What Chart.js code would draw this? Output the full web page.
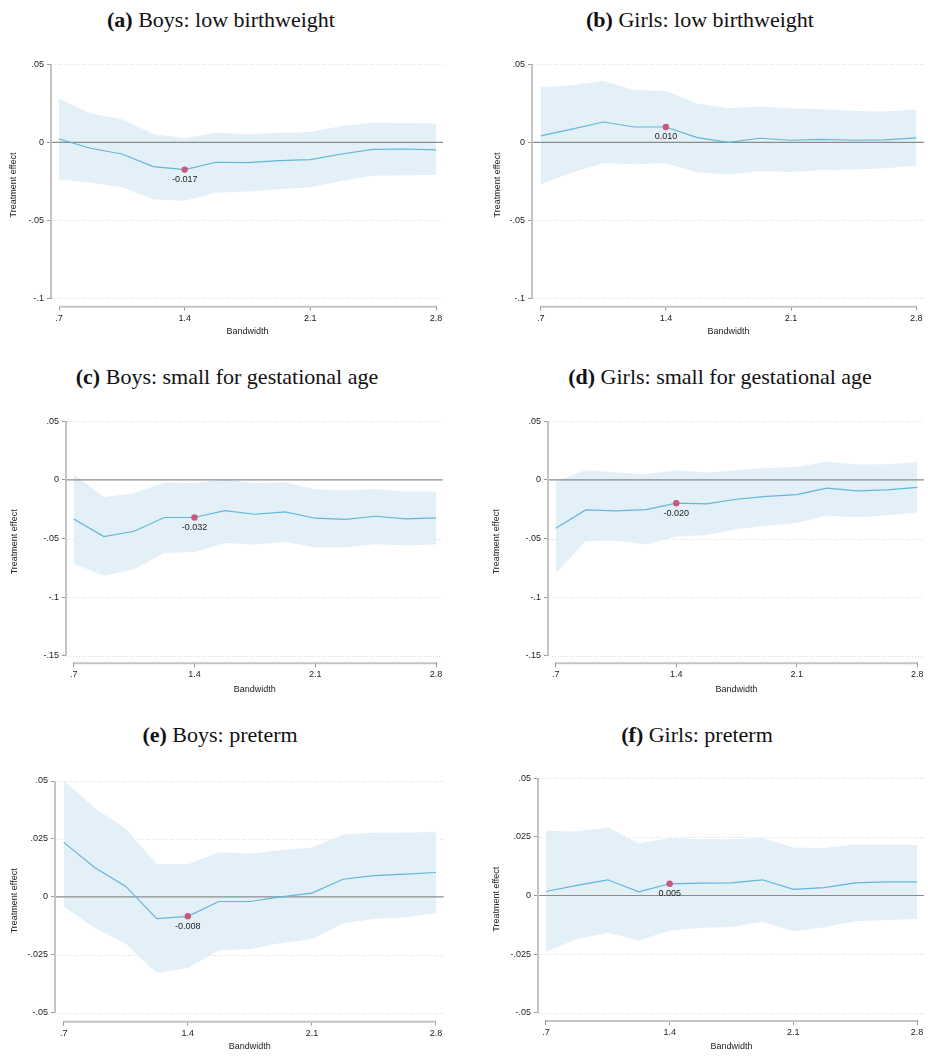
<!DOCTYPE html>
<html><head><meta charset="utf-8">
<script src="https://cdn.jsdelivr.net/npm/chart.js@4.4.1/dist/chart.umd.min.js"></script>
<style>
html,body{margin:0;padding:0;background:#fff;}
body{width:928px;height:1056px;position:relative;overflow:hidden;}
.ttl{position:absolute;width:440px;text-align:center;font-family:"Liberation Serif","DejaVu Serif",serif;font-size:22px;color:#111;white-space:nowrap;line-height:24px;}
canvas{position:absolute;}
</style></head><body>
<script>
// ---- data ----
const bandwidth = [0.7,0.875,1.05,1.225,1.4,1.575,1.75,1.925,2.1,2.275,2.45,2.625,2.8];
const xTickValues = [0.7,1.4,2.1,2.8];
const xTickLabels = ['.7','1.4','2.1','2.8'];
const yTicksLbw = [-0.1,-0.05,0,0.05];
const yLabelsLbw = ['-.1','-.05','0','.05'];
const yTicksSga = [-0.15,-0.1,-0.05,0,0.05];
const yLabelsSga = ['-.15','-.1','-.05','0','.05'];
const yTicksPre = [-0.05,-0.025,0,0.025,0.05];
const yLabelsPre = ['-.05','-.025','0','.025','.05'];

const boysLbwEst = [0.0021,-0.0038,-0.0075,-0.0156,-0.0175,-0.0128,-0.0130,-0.0118,-0.0111,-0.0075,-0.0045,-0.0043,-0.0049];
const boysLbwHi  = [0.0280,0.0186,0.0147,0.0053,0.0028,0.0062,0.0053,0.0060,0.0066,0.0105,0.0126,0.0124,0.0120];
const boysLbwLo  = [-0.0237,-0.0260,-0.0288,-0.0365,-0.0374,-0.0323,-0.0316,-0.0301,-0.0288,-0.0246,-0.0214,-0.0212,-0.0209];

const girlsLbwEst = [0.0041,0.0085,0.0130,0.0098,0.0098,0.0030,0.0000,0.0026,0.0013,0.0019,0.0013,0.0015,0.0028];
const girlsLbwHi  = [0.0353,0.0365,0.0393,0.0335,0.0329,0.0248,0.0218,0.0229,0.0216,0.0212,0.0201,0.0197,0.0209];
const girlsLbwLo  = [-0.0269,-0.0194,-0.0135,-0.0141,-0.0135,-0.0192,-0.0207,-0.0184,-0.0190,-0.0177,-0.0175,-0.0167,-0.0150];

const boysSgaEst = [-0.0333,-0.0484,-0.0438,-0.0321,-0.0321,-0.0262,-0.0293,-0.0273,-0.0327,-0.0336,-0.0310,-0.0333,-0.0324];
const boysSgaHi  = [0.0048,-0.0148,-0.0114,-0.0023,-0.0026,0.0003,-0.0026,-0.0020,-0.0080,-0.0091,-0.0077,-0.0102,-0.0100];
const boysSgaLo  = [-0.0714,-0.0817,-0.0762,-0.0623,-0.0615,-0.0538,-0.0552,-0.0529,-0.0575,-0.0575,-0.0549,-0.0560,-0.0552];

const girlsSgaEst = [-0.0413,-0.0256,-0.0265,-0.0253,-0.0199,-0.0205,-0.0165,-0.0140,-0.0125,-0.0071,-0.0094,-0.0085,-0.0063];
const girlsSgaHi  = [-0.0014,0.0085,0.0063,0.0051,0.0083,0.0063,0.0083,0.0102,0.0111,0.0154,0.0131,0.0134,0.0151];
const girlsSgaLo  = [-0.0797,-0.0523,-0.0518,-0.0552,-0.0484,-0.0470,-0.0421,-0.0390,-0.0367,-0.0304,-0.0319,-0.0302,-0.0279];

const boysPreEst = [0.0235,0.0127,0.0045,-0.0094,-0.0084,-0.0020,-0.0020,0.0000,0.0016,0.0076,0.0092,0.0098,0.0105];
const boysPreHi  = [0.0504,0.0382,0.0295,0.0141,0.0141,0.0193,0.0186,0.0202,0.0212,0.0269,0.0277,0.0277,0.0281];
const boysPreLo  = [-0.0043,-0.0133,-0.0202,-0.0329,-0.0307,-0.0231,-0.0225,-0.0199,-0.0182,-0.0114,-0.0096,-0.0088,-0.0071];

const girlsPreEst = [0.0017,0.0043,0.0067,0.0016,0.0050,0.0053,0.0054,0.0067,0.0026,0.0034,0.0054,0.0058,0.0058];
const girlsPreHi  = [0.0276,0.0273,0.0290,0.0223,0.0245,0.0240,0.0240,0.0245,0.0205,0.0203,0.0218,0.0218,0.0215];
const girlsPreLo  = [-0.0240,-0.0186,-0.0159,-0.0192,-0.0149,-0.0138,-0.0134,-0.0112,-0.0152,-0.0135,-0.0110,-0.0104,-0.0100];

const chosenBandwidth = 1.4;
const estLabels = ['-0.017','0.010','-0.032','-0.020','-0.008','0.005'];
const panelTags = ['(a)','(b)','(c)','(d)','(e)','(f)'];
const panelTitles = ['Boys: low birthweight','Girls: low birthweight','Boys: small for gestational age','Girls: small for gestational age','Boys: preterm','Girls: preterm'];

// ---- layout (page pixels) ----
const panels = [
 {est:boysLbwEst, hi:boysLbwHi, lo:boysLbwLo, yt:yTicksLbw, yl:yLabelsLbw, canvas:[0,45,464,305],
  f:{axisX:52,yTop:64.3,yBot:298.3,xAxisY:305.7,x0:59,x1:436,yTitleX:14,xTitleY:331.7}, tc:221, ty:20},
 {est:girlsLbwEst, hi:girlsLbwHi, lo:girlsLbwLo, yt:yTicksLbw, yl:yLabelsLbw, canvas:[480,45,448,305],
  f:{axisX:533,yTop:64.3,yBot:298.3,xAxisY:305.7,x0:540.7,x1:917.7,yTitleX:497.3,xTitleY:331.7}, tc:700, ty:20},
 {est:boysSgaEst, hi:boysSgaHi, lo:boysSgaLo, yt:yTicksSga, yl:yLabelsSga, canvas:[0,400,464,305],
  f:{axisX:67,yTop:421.3,yBot:655.7,xAxisY:662.3,x0:73.7,x1:436,yTitleX:15,xTitleY:689.3}, tc:227, ty:377},
 {est:girlsSgaEst, hi:girlsSgaHi, lo:girlsSgaLo, yt:yTicksSga, yl:yLabelsSga, canvas:[480,400,448,305],
  f:{axisX:549,yTop:421.3,yBot:655.7,xAxisY:662.3,x0:555.7,x1:917.7,yTitleX:496.7,xTitleY:689.3}, tc:720, ty:377},
 {est:boysPreEst, hi:boysPreHi, lo:boysPreLo, yt:yTicksPre, yl:yLabelsPre, canvas:[0,755,464,301],
  f:{axisX:56,yTop:781,yBot:1012.7,xAxisY:1020.7,x0:63.7,x1:436,yTitleX:15,xTitleY:1046.7}, tc:220, ty:735},
 {est:girlsPreEst, hi:girlsPreHi, lo:girlsPreLo, yt:yTicksPre, yl:yLabelsPre, canvas:[480,755,448,301],
  f:{axisX:539,yTop:778.3,yBot:1012.7,xAxisY:1020,x0:546,x1:917.7,yTitleX:496.7,xTitleY:1046.7}, tc:697, ty:735}
];

const FONT = {family:'"Liberation Sans", Arial, sans-serif', size:9};
const LINEH = FONT.size*1.2;
const TXT = '#222';

const framePlugin = {
  id:'stataFrame',
  beforeDatasetsDraw(chart){
    const {ctx, chartArea:a, scales:{y}} = chart;
    const yt = chart.options.plugins.stataFrame.yTicks;
    ctx.save();
    ctx.strokeStyle = '#d9d9d9'; ctx.lineWidth = 1; ctx.setLineDash([1,2]);
    yt.forEach(v=>{ if(v===0) return; const py = Math.round(y.getPixelForValue(v))+0.5;
      ctx.beginPath(); ctx.moveTo(a.left, py); ctx.lineTo(a.right, py); ctx.stroke(); });
    ctx.restore();
  },
  beforeDatasetDraw(chart, args){
    // zero reference line sits above the band, below the estimate line
    if(args.index !== 2) return;
    const {ctx, chartArea:a, scales:{y}} = chart;
    const pz = y.getPixelForValue(0);
    ctx.save();
    ctx.strokeStyle = '#8c8c8c'; ctx.lineWidth = 1.2;
    ctx.beginPath(); ctx.moveTo(a.left, pz); ctx.lineTo(a.right, pz); ctx.stroke();
    ctx.restore();
  },
  afterDatasetsDraw(chart){
    const {ctx, chartArea:a, scales:{x,y}} = chart;
    const o = chart.options.plugins.stataFrame;
    ctx.save();
    ctx.strokeStyle = '#c4c4c4'; ctx.lineWidth = 2;
    ctx.beginPath();
    ctx.moveTo(a.left-1, y.getPixelForValue(o.yTicks[0])); ctx.lineTo(a.left-1, y.getPixelForValue(o.yTicks[o.yTicks.length-1]));
    ctx.stroke();
    ctx.beginPath();
    ctx.moveTo(x.getPixelForValue(xTickValues[0]), a.bottom+1); ctx.lineTo(x.getPixelForValue(xTickValues[xTickValues.length-1]), a.bottom+1);
    ctx.stroke();
    const pt = chart.getDatasetMeta(3).data[0];
    ctx.fillStyle = TXT; ctx.font = FONT.size+'px '+FONT.family;
    ctx.textAlign = 'center'; ctx.textBaseline = 'middle';
    ctx.fillText(o.label, pt.x, pt.y + 10);
    ctx.restore();
  }
};

panels.forEach((p, i)=>{
  const [cl, ct, cw, ch] = p.canvas;
  const f = p.f;
  const t = document.createElement('div');
  t.className = 'ttl';
  t.style.left = (p.tc - 220) + 'px';
  t.style.top = (p.ty - 12) + 'px';
  const b = document.createElement('b'); b.textContent = panelTags[i];
  t.appendChild(b); t.appendChild(document.createTextNode(' ' + panelTitles[i]));
  document.body.appendChild(t);

  const cv = document.createElement('canvas');
  cv.width = cw; cv.height = ch;
  cv.style.left = cl+'px'; cv.style.top = ct+'px';
  cv.style.width = cw+'px'; cv.style.height = ch+'px';
  document.body.appendChild(cv);

  const gap = f.x0 - f.axisX;
  const xa = xTickValues[0], xb = xTickValues[xTickValues.length-1];
  const ppuX = (f.x1 - f.x0)/(xb - xa);
  const xmin = xa - gap/ppuX, xmax = xb + gap/ppuX;
  const chartRight = f.x1 + gap;
  const ya = p.yt[0], yb = p.yt[p.yt.length-1];
  const ppuY = (f.yBot - f.yTop)/(yb - ya);
  const ymin = ya - (f.xAxisY - f.yBot)/ppuY, ymax = yb;
  const yScaleW = f.axisX - cl;
  const padTop = f.yTop - ct;
  const padRight = cl + cw - chartRight;
  const xScaleH = ct + ch - f.xAxisY;
  const xTitlePadBottom = ct + ch - f.xTitleY - LINEH/2;
  const yTitlePadTop = f.yTitleX - cl - LINEH/2;
  const k = bandwidth.indexOf(chosenBandwidth);

  new Chart(cv, {
    type:'line',
    data:{datasets:[
      {data:bandwidth.map((x,j)=>({x, y:p.hi[j]})), fill:'+1', backgroundColor:'#e3f0f7', borderWidth:0, pointRadius:0, order:3},
      {data:bandwidth.map((x,j)=>({x, y:p.lo[j]})), fill:false, borderWidth:0, pointRadius:0, order:4},
      {data:bandwidth.map((x,j)=>({x, y:p.est[j]})), fill:false, borderColor:'#62b6d8', borderWidth:1.2, pointRadius:0, order:1},
      {data:[{x:chosenBandwidth, y:p.est[k]}], showLine:false, pointRadius:3.2, pointBackgroundColor:'#c9587c', pointBorderColor:'#c9587c', pointBorderWidth:0, borderWidth:0, order:0}
    ]},
    options:{
      responsive:false, animation:false, devicePixelRatio:1,
      layout:{padding:{left:0, top:padTop, right:padRight, bottom:0}},
      plugins:{legend:{display:false}, tooltip:{enabled:false}, stataFrame:{yTicks:p.yt, label:estLabels[i]}},
      scales:{
        x:{type:'linear', min:xmin, max:xmax,
          afterBuildTicks:s=>{s.ticks = xTickValues.map(v=>({value:v}));},
          afterFit:s=>{s.height = xScaleH;},
          ticks:{callback:(v,idx)=>xTickLabels[idx], font:FONT, color:TXT, padding:2, maxRotation:0, autoSkip:false},
          grid:{drawOnChartArea:false, drawTicks:true, tickLength:5, tickColor:'#9a9a9a', tickWidth:1},
          border:{display:false},
          title:{display:true, text:'Bandwidth', font:FONT, color:TXT, padding:{top:0, bottom:xTitlePadBottom}}
        },
        y:{type:'linear', min:ymin, max:ymax,
          afterBuildTicks:s=>{s.ticks = p.yt.map(v=>({value:v}));},
          afterFit:s=>{s.width = yScaleW;},
          ticks:{callback:(v,idx)=>p.yl[idx], font:FONT, color:TXT, padding:3, autoSkip:false},
          grid:{drawOnChartArea:false, drawTicks:true, tickLength:5, tickColor:'#9a9a9a', tickWidth:1},
          border:{display:false},
          title:{display:true, text:'Treatment effect', font:FONT, color:TXT, padding:{top:yTitlePadTop, bottom:0}}
        }
      }
    },
    plugins:[framePlugin]
  });
});
</script>
</body></html>
